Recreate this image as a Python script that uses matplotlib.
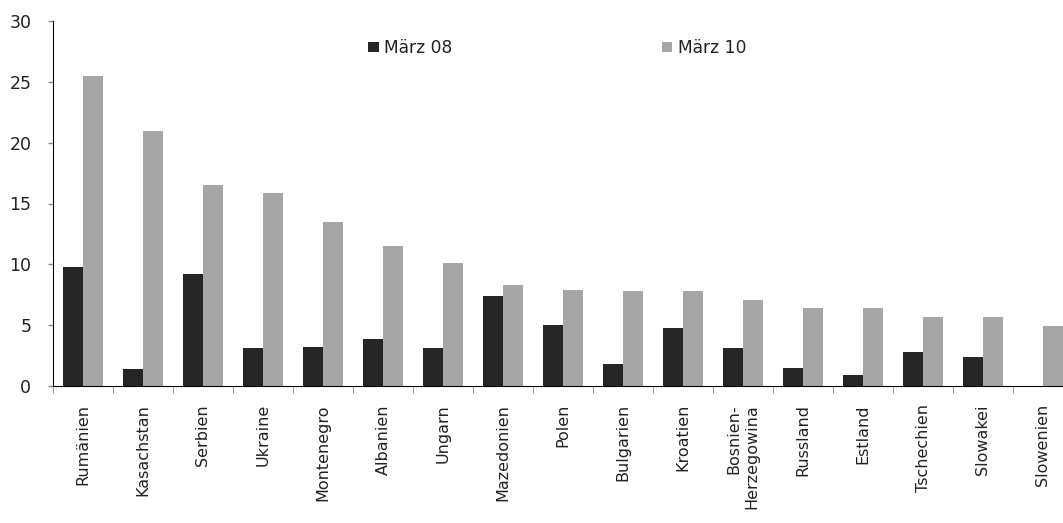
import matplotlib
matplotlib.use("Agg")
import matplotlib.pyplot as plt
import numpy as np

categories = ["Rumänien", "Kasachstan", "Serbien", "Ukraine", "Montenegro", "Albanien",
              "Ungarn", "Mazedonien", "Polen", "Bulgarien", "Kroatien",
              "Bosnien-\nHerzegowina", "Russland", "Estland", "Tschechien", "Slowakei", "Slowenien"]
maerz08 = [9.8, 1.4, 9.2, 3.1, 3.2, 3.9, 3.1, 7.4, 5.0, 1.8, 4.8, 3.1, 1.5, 0.9, 2.8, 2.4, 0.0]
maerz10 = [25.5, 21.0, 16.5, 15.9, 13.5, 11.5, 10.1, 8.3, 7.9, 7.8, 7.8, 7.1, 6.4, 6.4, 5.7, 5.7, 4.9]
yticks = [0, 5, 10, 15, 20, 25, 30]

plt.rcParams['font.family'] = ['DejaVu Sans']
W, H = 1063, 523
fig = plt.figure(figsize=(W/100, H/100), dpi=100)
ax = fig.add_axes([53/W, 137/H, 1020/W, 365/H])

x = np.arange(len(categories))
w = 1/3
ax.bar(x - w/2, maerz08, width=w, color="#262626", label="März 08")
ax.bar(x + w/2, maerz10, width=w, color="#a6a6a6", label="März 10")

ax.set_xlim(-0.5, len(categories) - 0.5)
ax.set_ylim(0, 30)
ax.set_yticks(yticks)
ax.set_yticklabels([str(t) for t in yticks], fontsize=12.5, color="#222222")
ax.tick_params(axis='y', direction='out', length=3.6, width=1, color="#888888", pad=12)

ax.set_xticks(x)
ax.set_xticklabels(categories, rotation=90, fontsize=11.5, color="#222222",
                   va='top', ha='center', multialignment='right')
ax.tick_params(axis='x', which='major', length=0, pad=13)
ax.set_xticks(np.arange(len(categories) + 1) - 0.5, minor=True)
ax.tick_params(axis='x', which='minor', direction='out', length=4.8, color="#888888")

for s in ['top', 'right']:
    ax.spines[s].set_visible(False)
ax.spines['left'].set_color('black')
ax.spines['bottom'].set_color('black')

leg = fig.legend(loc='center left', bbox_to_anchor=(353/W, 1 - 48/H), ncol=2, frameon=False,
                 fontsize=12.3, handlelength=0.6, handleheight=0.6, handletextpad=0.3,
                 columnspacing=12.3, labelcolor="#222222")

fig.savefig("out.png", dpi=100)
